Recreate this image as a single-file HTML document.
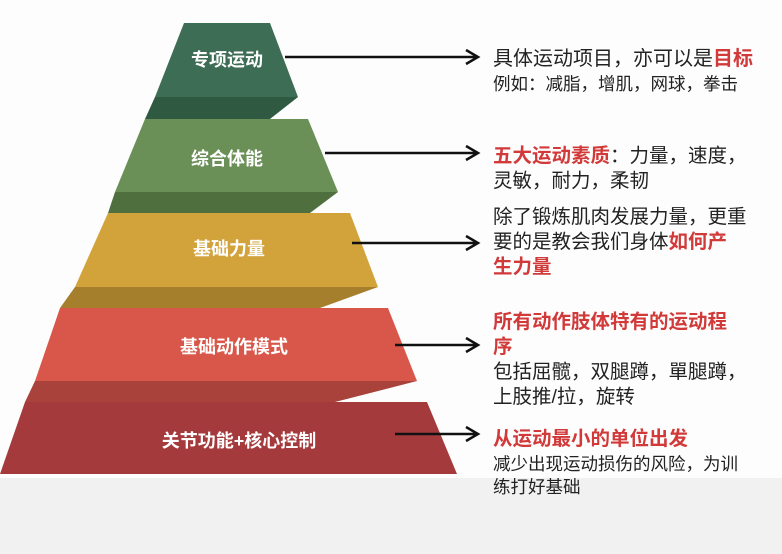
<!DOCTYPE html>
<html><head><meta charset="utf-8"><style>
body{margin:0;width:782px;height:554px;overflow:hidden;background:#fdfdfd;font-family:"Liberation Sans","Noto Sans CJK SC",sans-serif;}
svg{position:absolute;left:0;top:0}
.t{position:absolute;left:493px;color:#222;white-space:nowrap}
.r{color:#d23a3a;font-weight:bold}
</style></head><body>
<svg width="782" height="554">
<rect x="0" y="478" width="782" height="76" fill="#f1f1f1"/>
<polygon points="155,97 298,97 270,119 145,119" fill="#2f5940"/>
<polygon points="184,23 270,23 298,97 155,97" fill="#3e6d55"/>
<polygon points="115,192 338,192 310,213 108,213" fill="#4f6f3f"/>
<polygon points="145,119 308,119 338,192 115,192" fill="#6a8f57"/>
<polygon points="75,287 378,287 320,308 60,308" fill="#a57f2c"/>
<polygon points="108,213 350,213 378,287 75,287" fill="#d3a33b"/>
<polygon points="35,381 417,381 335,402 25,402" fill="#a8423a"/>
<polygon points="60,308 388,308 417,381 35,381" fill="#d9574a"/>
<polygon points="25,402 427,402 457,474 0,474" fill="#a53a3d"/>
<g fill="#fff" font-weight="bold" font-size="18" text-anchor="middle" font-family="Liberation Sans,Noto Sans CJK SC,sans-serif">
<text x="227" y="66">专项运动</text>
<text x="227" y="165">综合体能</text>
<text x="229" y="255">基础力量</text>
<text x="234" y="353">基础动作模式</text>
<text x="239" y="447">关节功能+核心控制</text>
</g>
<g stroke="#111" stroke-width="2.5" fill="none">
<path d="M285 57H476M466 50L478 57L466 64"/>
<path d="M325 153H476M466 146L478 153L466 160"/>
<path d="M352 243H476M466 236L478 243L466 250"/>
<path d="M395 345H476M466 338L478 345L466 352"/>
<path d="M395 434H476M466 427L478 434L466 441"/>
</g>
</svg>
<div class="t" style="top:47px;font-size:20px;line-height:25px">具体运动项目，亦可以是<span class="r">目标</span></div>
<div class="t" style="top:73px;font-size:17.5px;line-height:23px">例如：减脂，增肌，网球，拳击</div>
<div class="t" style="top:144px;font-size:19.5px;line-height:25px"><span class="r">五大运动素质</span>：力量，速度，<br>灵敏，耐力，柔韧</div>
<div class="t" style="top:205px;font-size:19.5px;line-height:25px">除了锻炼肌肉发展力量，更重<br>要的是教会我们身体<span class="r">如何产<br>生力量</span></div>
<div class="t" style="top:310px;font-size:19.5px;line-height:25px"><span class="r">所有动作肢体特有的运动程<br>序</span><br>包括屈髋，双腿蹲，單腿蹲，<br>上肢推/拉，旋转</div>
<div class="t" style="top:427px;font-size:19.5px;line-height:25px"><span class="r">从运动最小的单位出发</span></div>
<div class="t" style="top:453px;font-size:17.5px;line-height:23px">减少出现运动损伤的风险，为训<br>练打好基础</div>
</body></html>
